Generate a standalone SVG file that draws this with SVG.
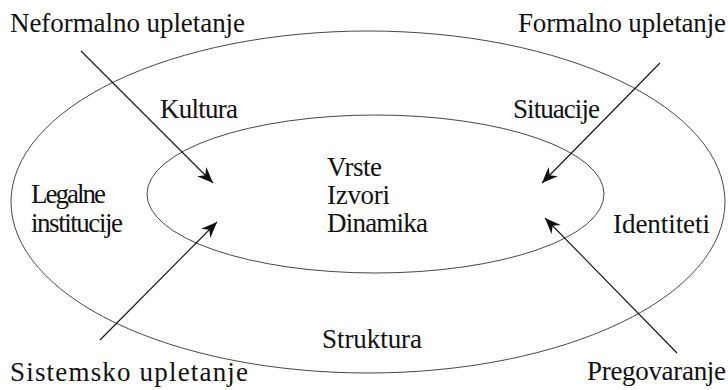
<svg xmlns="http://www.w3.org/2000/svg" width="728" height="390" viewBox="0 0 728 390">
<style>
  .ring { fill: none; stroke: #333; stroke-width: 0.9; }
  .lbl { font-family: "Liberation Serif", "Times New Roman", serif; font-size: 27px; fill: #111; }
  .conn { stroke: #111; stroke-width: 1.1; fill: none; marker-end: url(#arrow); }
</style>
<defs>
  <marker id="arrow" markerUnits="userSpaceOnUse" markerWidth="20" markerHeight="14" viewBox="-17 -7 18 14" refX="0" refY="0" orient="auto">
    <path d="M0,0 L-16,-6.5 L-11,0 L-16,6.5 Z" fill="#111"/>
  </marker>
</defs>
<rect width="728" height="390" fill="#fff"/>
<g id="outer">
  <ellipse class="ring" cx="368" cy="202" rx="357" ry="171"/>
  <text class="lbl" x="160" y="118" textLength="78" lengthAdjust="spacing">Kultura</text>
  <text class="lbl" x="513" y="118" textLength="87" lengthAdjust="spacing">Situacije</text>
  <text class="lbl" x="31" y="203" textLength="75" lengthAdjust="spacing">Legalne</text>
  <text class="lbl" x="31" y="232" textLength="92" lengthAdjust="spacing">institucije</text>
  <text class="lbl" x="613" y="233" textLength="97" lengthAdjust="spacing">Identiteti</text>
  <text class="lbl" x="322" y="348" textLength="100" lengthAdjust="spacing">Struktura</text>
</g>
<g id="inner">
  <ellipse class="ring" cx="375.5" cy="194" rx="228.5" ry="79"/>
  <text class="lbl" x="327" y="176" textLength="55" lengthAdjust="spacing">Vrste</text>
  <text class="lbl" x="327" y="204" textLength="63" lengthAdjust="spacing">Izvori</text>
  <text class="lbl" x="327" y="232" textLength="101" lengthAdjust="spacing">Dinamika</text>
</g>
<g id="neformalno">
  <text class="lbl" x="10" y="32" textLength="235" lengthAdjust="spacing">Neformalno upletanje</text>
</g>
<g id="formalno">
  <text class="lbl" x="518" y="32" textLength="208" lengthAdjust="spacing">Formalno upletanje</text>
</g>
<g id="sistemsko">
  <text class="lbl" x="10" y="381" textLength="238" lengthAdjust="spacing">Sistemsko upletanje</text>
</g>
<g id="pregovaranje">
  <text class="lbl" x="587" y="380" textLength="139" lengthAdjust="spacing">Pregovaranje</text>
</g>
<g id="connectors">
  <line class="conn" x1="81" y1="51" x2="213" y2="183"/>
  <line class="conn" x1="660" y1="63" x2="542" y2="183"/>
  <line class="conn" x1="100" y1="340" x2="217" y2="222"/>
  <line class="conn" x1="677" y1="353" x2="545" y2="218"/>
</g>
</svg>
